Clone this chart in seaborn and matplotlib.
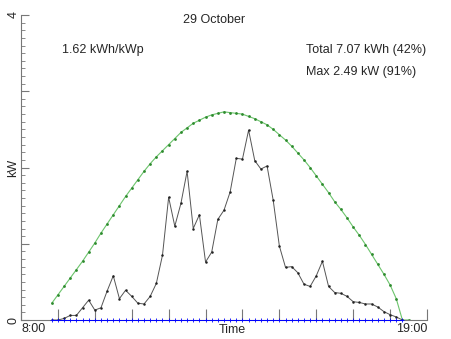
# Daily PV output plot - 29 October
import numpy as np
import pandas as pd
import matplotlib
matplotlib.use("Agg")
import matplotlib.pyplot as plt
import seaborn as sns
from matplotlib.ticker import MultipleLocator, FixedLocator, FixedFormatter

sns.set_style("white")
plt.rcParams["font.family"] = ["Liberation Sans", "DejaVu Sans"]

# 10 minute samples
times = pd.date_range("2023-10-29 08:50", "2023-10-29 18:30", freq="10min")
hours = times.hour + times.minute / 60.0

# measured power (kW), 08:50 - 18:20
power = [0.00, 0.00, 0.02, 0.06, 0.06, 0.16, 0.26, 0.13, 0.16, 0.38,
         0.58, 0.28, 0.39, 0.31, 0.22, 0.21, 0.31, 0.48, 0.85, 1.61,
         1.23, 1.53, 1.95, 1.20, 1.38, 0.76, 0.89, 1.32, 1.44, 1.68,
         2.12, 2.11, 2.49, 2.09, 1.98, 2.02, 1.57, 0.97, 0.69, 0.70,
         0.62, 0.47, 0.44, 0.58, 0.77, 0.44, 0.36, 0.35, 0.31, 0.24,
         0.23, 0.21, 0.21, 0.17, 0.11, 0.07, 0.04, 0.00]

# clear sky expected power (kW), 08:50 - 18:30
clear_sky = [0.22, 0.33, 0.44, 0.55, 0.66, 0.77, 0.89, 1.01, 1.14, 1.26,
             1.38, 1.50, 1.62, 1.73, 1.84, 1.95, 2.05, 2.14, 2.22, 2.30,
             2.38, 2.46, 2.52, 2.58, 2.62, 2.66, 2.69, 2.71, 2.73, 2.72,
             2.71, 2.70, 2.67, 2.64, 2.60, 2.56, 2.50, 2.43, 2.36, 2.28,
             2.19, 2.10, 2.00, 1.89, 1.78, 1.67, 1.55, 1.45, 1.34, 1.22,
             1.11, 0.99, 0.86, 0.73, 0.60, 0.46, 0.28, 0.00, 0.00]

# baseline (kW)
baseline = [0.0] * len(power)

title = "29 October"
specific_yield = "1.62 kWh/kWp"
total_text = "Total 7.07 kWh (42%)"
max_text = "Max 2.49 kW (91%)"

fig = plt.figure(figsize=(4.52, 3.39), dpi=100)
ax = fig.add_axes([21 / 452, 1 - 320 / 339, 406 / 452, 305 / 339])

sns.lineplot(x=hours, y=clear_sky, color="#6cc46c", linewidth=0.8,
             marker="o", markersize=2.0, markeredgewidth=0,
             markerfacecolor="#2e8b2e", ax=ax)
sns.lineplot(x=hours[:len(power)], y=power, color="#555555", linewidth=0.7,
             marker="o", markersize=1.8, markeredgewidth=0,
             markerfacecolor="#222222", ax=ax)
sns.lineplot(x=hours[:len(baseline)], y=baseline, color="#0000ff",
             linewidth=0.7, marker="+", markersize=3, markeredgewidth=0.6,
             markeredgecolor="#0000ff", clip_on=False, zorder=4, ax=ax)

ax.set_xlim(8, 19)
ax.set_ylim(0, 4)

# axes styling
for side in ["top", "right"]:
    ax.spines[side].set_visible(False)
for side in ["left", "bottom"]:
    ax.spines[side].set_color("#777777")
    ax.spines[side].set_linewidth(0.8)

ax.xaxis.set_major_locator(FixedLocator(np.arange(8, 20)))
ax.xaxis.set_major_formatter(FixedFormatter(["8:00"] + [""] * 10 + ["19:00"]))
ax.tick_params(axis="x", which="major", bottom=True, direction="in", length=8,
               width=0.8, color="#777777", pad=2, labelsize=9)

ax.yaxis.set_major_locator(FixedLocator([0, 1, 2, 3, 4]))
ax.yaxis.set_major_formatter(FixedFormatter(["0", "", "", "", "4"]))
ax.yaxis.set_minor_locator(MultipleLocator(0.1))
ax.tick_params(axis="y", which="major", left=True, direction="in", length=6,
               width=0.8, color="#777777", pad=1, labelsize=9, labelrotation=90)
ax.tick_params(axis="y", which="minor", left=True, direction="in", length=3,
               width=0.6, color="#777777")
for lbl in ax.get_yticklabels():
    lbl.set_va("center")

xlabels = ax.get_xticklabels()
xlabels[0].set_ha("left")
xlabels[-1].set_ha("right")

ax.set_xlabel("Time", fontsize=9)
ax.xaxis.set_label_coords((232 - 21) / 406, -0.012)
ax.xaxis.label.set_va("top")
ax.set_ylabel("kW", fontsize=9)
ax.yaxis.set_label_coords(-8 / 406, 0.5)
ax.yaxis.label.set_va("center")

# annotations
fig.text(214 / 452, 1 - 23 / 339, title, ha="center", va="baseline", fontsize=9)
fig.text(62 / 452, 1 - 53 / 339, specific_yield, ha="left", va="baseline", fontsize=9)
fig.text(306 / 452, 1 - 53 / 339, total_text, ha="left", va="baseline", fontsize=9)
fig.text(306 / 452, 1 - 75 / 339, max_text, ha="left", va="baseline", fontsize=9)

fig.savefig("out.png", dpi=100)
